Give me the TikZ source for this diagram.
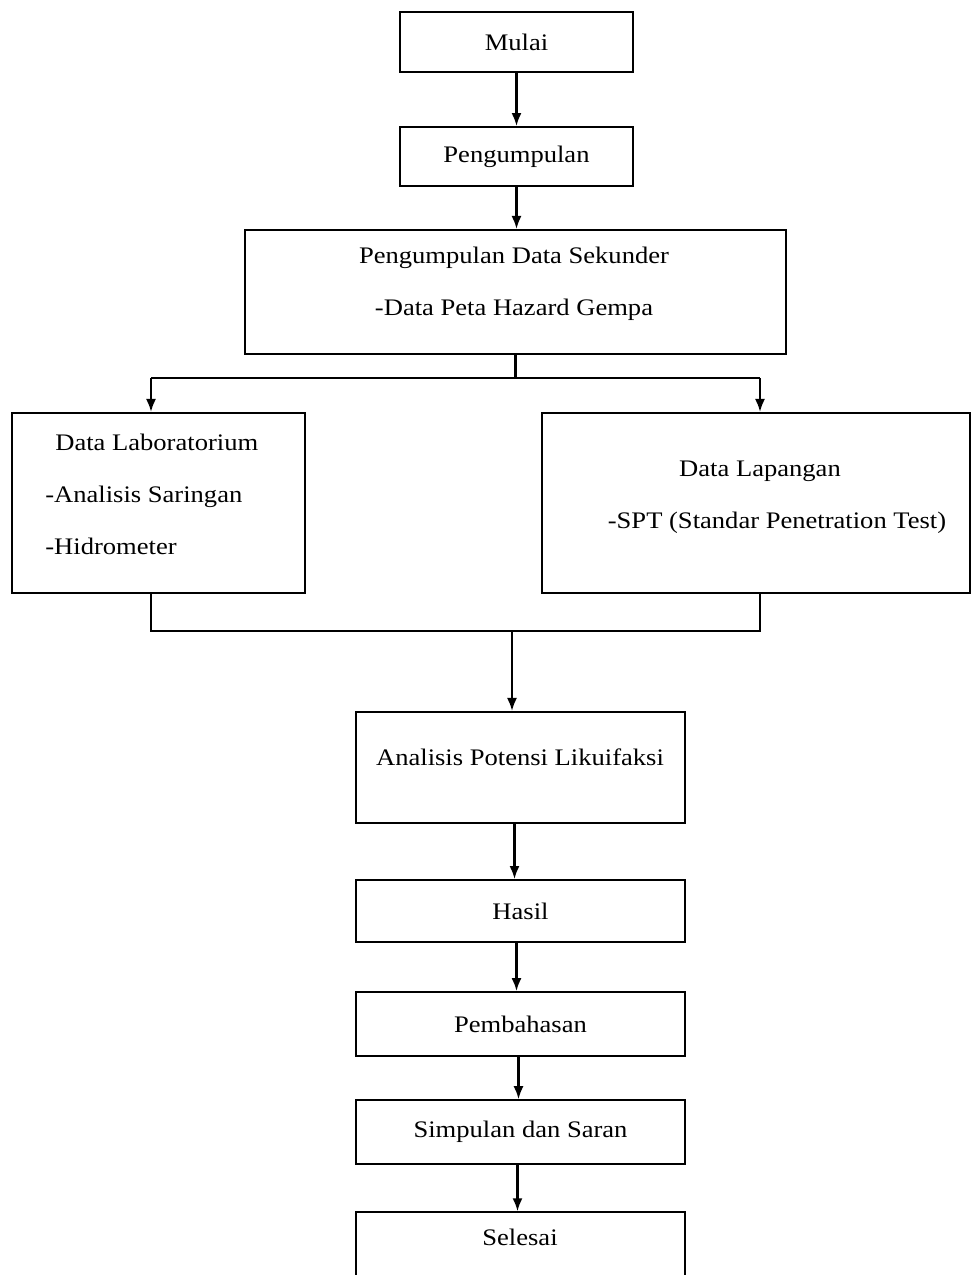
\documentclass[tikz,border=0pt]{standalone}
\usepackage{fontspec}
\setmainfont{Liberation Serif}[FakeStretch=1.12]
\usetikzlibrary{positioning,arrows.meta}

\tikzset{
  box/.style={draw, line width=1.2pt, inner sep=0pt, minimum width=4.66cm, minimum height=1.2cm,
    font=\fontsize{13.5}{16}\selectfont},
  txt/.style={inner sep=0pt, font=\fontsize{13.5}{16}\selectfont},
  arr/.style={-{Latex[length=2.6mm,width=2mm]}, line width=1.2pt},
  ln/.style={line width=1.2pt},
}

\begin{document}
\begin{tikzpicture}[x=0.02cm, y=-0.02cm]
		\useasboundingbox (0,0) rectangle (972,1275);
		
		% 1. top of the chart
		\node [box] (mulai) at (516.5,42) {Mulai};
		\node [box, below=1.06cm of mulai, minimum height=1.18cm] (peng) {Pengumpulan};
		\node [box, minimum width=10.82cm, minimum height=2.48cm] (sekunder) at (515.5,292) {};
		\node [txt, anchor=base] (sekunder1) at (514,263) {Pengumpulan Data Sekunder};
		\node [txt, anchor=base] (sekunder2) at (514,315) {-Data Peta Hazard Gempa};
		
		% 2. the two data boxes
		\node [box, minimum width=5.86cm, minimum height=3.6cm] (lab) at (158.5,503) {};
		\node [txt, anchor=base west] (lab1) at (55,450) {Data Laboratorium};
		\node [txt, anchor=base west] (lab2) at (45,502) {-Analisis Saringan};
		\node [txt, anchor=base west] (lab3) at (45,554) {-Hidrometer};
		
		\node [box, minimum width=8.56cm, minimum height=3.6cm] (lap) at (756,503) {};
		\node [txt, anchor=base] (lap1) at (760,476) {Data Lapangan};
		\node [txt, anchor=base] (lap2) at (777,528) {-SPT (Standar Penetration Test)};
		
		% 3. lower chain
		\node [box, minimum width=6.58cm, minimum height=2.22cm] (analisis) at (520.5,767.5) {};
		\node [txt, anchor=base] (analisis1) at (520,765) {Analisis Potensi Likuifaksi};
		\node [box, minimum width=6.58cm, minimum height=1.24cm, below=1.1cm of analisis] (hasil) {Hasil};
		\node [box, minimum width=6.58cm, minimum height=1.28cm, below=0.96cm of hasil] (bahas) {Pembahasan};
		\node [box, minimum width=6.58cm, minimum height=1.28cm, below=0.84cm of bahas] (simpulan) {Simpulan dan Saran};
		\node [box, minimum width=6.58cm, minimum height=1.76cm, below=0.92cm of simpulan] (selesai) {};
		\node [txt, anchor=base] (selesai1) at (520,1245) {Selesai};
		
		% 4. junctions
		\coordinate (splitL) at (151,378);
		\coordinate (splitR) at (760,378);
		\coordinate (joinL) at (151,631);
		\coordinate (joinR) at (760,631);
		\coordinate (join) at (512,631);
		
		% 5. connectors
		\draw [arr] (mulai) -- (peng);
		\draw [arr] (peng) -- (peng |- sekunder.north);
		\draw [ln] (sekunder.south) -- (sekunder.south |- splitL);
		\draw [ln] (splitL) -- (splitR);
		\draw [arr] (splitL) -- (splitL |- lab.north);
		\draw [arr] (splitR) -- (splitR |- lap.north);
		\draw [ln] (joinL |- lab.south) -- (joinL) -- (joinR) -- (joinR |- lap.south);
		\draw [arr] (join) -- (join |- analisis.north);
		\draw [arr] ([xshift=-0.12cm]analisis.south) -- ([xshift=-0.12cm]analisis.south |- hasil.north);
		\draw [arr] ([xshift=-0.08cm]hasil.south) -- ([xshift=-0.08cm]hasil.south |- bahas.north);
		\draw [arr] ([xshift=-0.04cm]bahas.south) -- ([xshift=-0.04cm]bahas.south |- simpulan.north);
		\draw [arr] ([xshift=-0.06cm]simpulan.south) -- ([xshift=-0.06cm]simpulan.south |- selesai.north);
\end{tikzpicture}
\end{document}
